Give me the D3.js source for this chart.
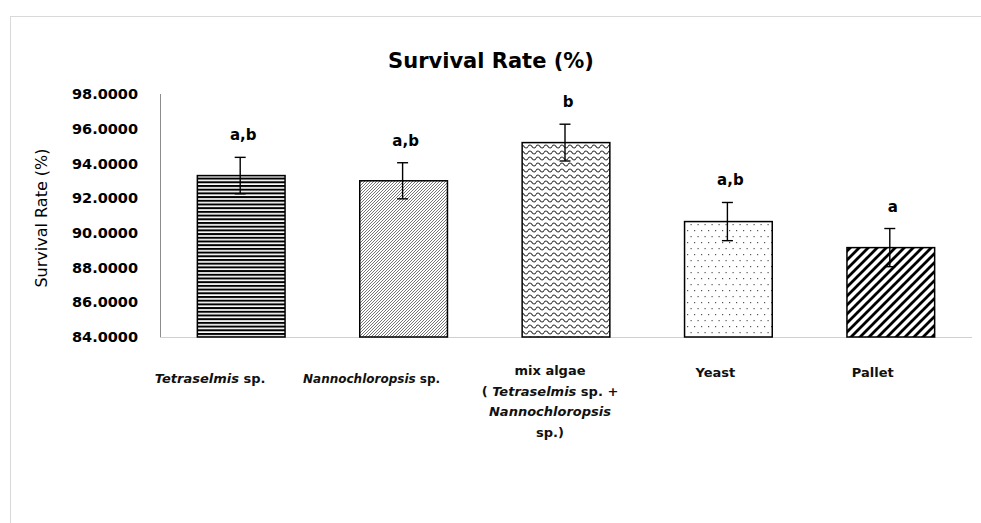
<!DOCTYPE html>
<html><head><meta charset="utf-8">
<script src="https://cdn.jsdelivr.net/npm/d3@7"></script>
<style>body{margin:0;background:#fff;} svg{display:block;}</style>
</head><body>
<svg id="chart" width="981" height="523"></svg>
<script>
// ---- data ----
const categories = ["Tetraselmis sp.", "Nannochloropsis sp.", "mix algae (Tetraselmis sp. + Nannochloropsis sp.)", "Yeast", "Pallet"];
const survival = [93.3, 93.0, 95.2, 90.65, 89.15];
const errors = [1.05, 1.04, 1.06, 1.1, 1.1];
const letters = ["a,b", "a,b", "b", "a,b", "a"];
const yTicks = [84, 86, 88, 90, 92, 94, 96, 98];
// label lines: [text, italic] segments
const labelLines = [
  [[["Tetraselmis", true], [" sp.", false]]],
  [[["Nannochloropsis", true], [" sp.", false]]],
  [[["mix algae", false]], [["( ", false], ["Tetraselmis", true], [" sp. +", false]], [["Nannochloropsis", true]], [["sp.)", false]]],
  [[["Yeast", false]]],
  [[["Pallet", false]]]
];
// layout (not data)
const labelDx = [-31, -32, -16, -13, -18];
const labelY = [383, 383, 375, 377, 377];
const labelSize = [13, 12, 13, 13, 13];

const svg = d3.select("#chart");
const W = 981, H = 523;
const plotL = 160, plotR = 972, plotT = 94, plotB = 337;

// border
svg.append("rect").attr("x", 10.5).attr("y", 16.5).attr("width", W).attr("height", H)
  .attr("fill", "none").attr("stroke", "#d9d9d9").attr("stroke-width", 1);

// patterns
const defs = svg.append("defs");
const p1 = defs.append("pattern").attr("id", "p1").attr("patternUnits", "userSpaceOnUse").attr("width", 8).attr("height", 3.7);
p1.append("rect").attr("width", 8).attr("height", 3.7).attr("fill", "#fff");
p1.append("rect").attr("y", 0).attr("width", 8).attr("height", 2).attr("fill", "#000");
const p2 = defs.append("pattern").attr("id", "p2").attr("patternUnits", "userSpaceOnUse").attr("width", 3).attr("height", 3);
p2.append("rect").attr("width", 3).attr("height", 3).attr("fill", "#fff");
p2.append("path").attr("d", "M-1,1 L1,-1 M0,3 L3,0 M2,4 L4,2").attr("stroke", "#666").attr("stroke-width", 0.9);
const p3 = defs.append("pattern").attr("id", "p3").attr("patternUnits", "userSpaceOnUse").attr("width", 8).attr("height", 6);
p3.append("rect").attr("width", 8).attr("height", 6).attr("fill", "#fff");
p3.append("path").attr("d", "M0,2.5 C1.3,0.5 2.7,0.5 4,2.5 C5.3,4.5 6.7,4.5 8,2.5").attr("fill", "none").attr("stroke", "#333").attr("stroke-width", 1.2);
const p4 = defs.append("pattern").attr("id", "p4").attr("patternUnits", "userSpaceOnUse").attr("width", 7).attr("height", 12);
p4.append("rect").attr("width", 7).attr("height", 12).attr("fill", "#fff");
p4.append("rect").attr("x", 1).attr("y", 2).attr("width", 1.2).attr("height", 1.2).attr("fill", "#555");
p4.append("rect").attr("x", 4.5).attr("y", 8).attr("width", 1.2).attr("height", 1.2).attr("fill", "#555");
const p5 = defs.append("pattern").attr("id", "p5").attr("patternUnits", "userSpaceOnUse").attr("width", 9).attr("height", 9);
p5.append("rect").attr("width", 9).attr("height", 9).attr("fill", "#fff");
p5.append("path").attr("d", "M-2,2 L2,-2 M0,9 L9,0 M7,11 L11,7").attr("stroke", "#000").attr("stroke-width", 2.8);
const fills = ["url(#p1)", "url(#p2)", "url(#p3)", "url(#p4)", "url(#p5)"];

const x = d3.scaleBand().domain(categories).range([plotL, plotR]).paddingInner(0.46).paddingOuter(0.23);
const y = d3.scaleLinear().domain([84, 98]).range([plotB, plotT]);

// baseline
svg.append("line").attr("x1", plotL).attr("x2", plotR).attr("y1", y(84) + 0.5).attr("y2", y(84) + 0.5)
  .attr("stroke", "#d0d0d0").attr("stroke-width", 1);

// y axis
const yAxis = svg.append("g").attr("transform", `translate(${plotL},0)`)
  .call(d3.axisLeft(y).tickValues(yTicks).tickSize(0).tickPadding(22).tickFormat(d3.format(".4f")));
yAxis.select(".domain").attr("stroke", "#8c8c8c").attr("d", `M0.5,${y(98)}V${y(84)}`);
yAxis.selectAll("text").attr("font-family", "DejaVu Sans").attr("font-weight", "bold")
  .attr("font-size", 14.5).attr("fill", "#000");

// bars
categories.forEach((c, i) => {
  svg.append("rect").attr("x", x(c)).attr("y", y(survival[i])).attr("width", x.bandwidth())
    .attr("height", y(84) - y(survival[i])).attr("fill", fills[i]).attr("stroke", "#000").attr("stroke-width", 1.5);
});

// error bars
categories.forEach((c, i) => {
  const cx = x(c) + x.bandwidth() / 2 - 1;
  const hi = y(survival[i] + errors[i]), lo = y(survival[i] - errors[i]);
  const g = svg.append("g").attr("stroke", "#000").attr("stroke-width", 1.4);
  g.append("line").attr("x1", cx).attr("x2", cx).attr("y1", hi).attr("y2", lo);
  g.append("line").attr("x1", cx - 5.5).attr("x2", cx + 5.5).attr("y1", hi).attr("y2", hi);
  g.append("line").attr("x1", cx - 5.5).attr("x2", cx + 5.5).attr("y1", lo).attr("y2", lo);
  svg.append("text").attr("x", cx + 3).attr("y", hi - 17).attr("text-anchor", "middle")
    .attr("font-family", "DejaVu Sans").attr("font-weight", "bold").attr("font-size", 15).text(letters[i]);
});

// category labels
categories.forEach((c, i) => {
  const cx = x(c) + x.bandwidth() / 2 + labelDx[i];
  labelLines[i].forEach((line, li) => {
    const t = svg.append("text").attr("x", cx).attr("y", labelY[i] + li * 20.5).attr("text-anchor", "middle")
      .attr("font-family", "DejaVu Sans").attr("font-weight", "bold").attr("font-size", labelSize[i]).attr("fill", "#111");
    line.forEach(seg => t.append("tspan").attr("font-style", seg[1] ? "italic" : "normal").text(seg[0]));
  });
});

// title
svg.append("text").attr("x", 491).attr("y", 68).attr("text-anchor", "middle")
  .attr("font-family", "DejaVu Sans").attr("font-weight", "bold").attr("font-size", 21).text("Survival Rate (%)");

// y label
svg.append("text").attr("transform", "translate(47,218) rotate(-90)").attr("text-anchor", "middle")
  .attr("font-family", "DejaVu Sans").attr("font-size", 16).attr("fill", "#000").text("Survival Rate (%)");
</script>
</body></html>
